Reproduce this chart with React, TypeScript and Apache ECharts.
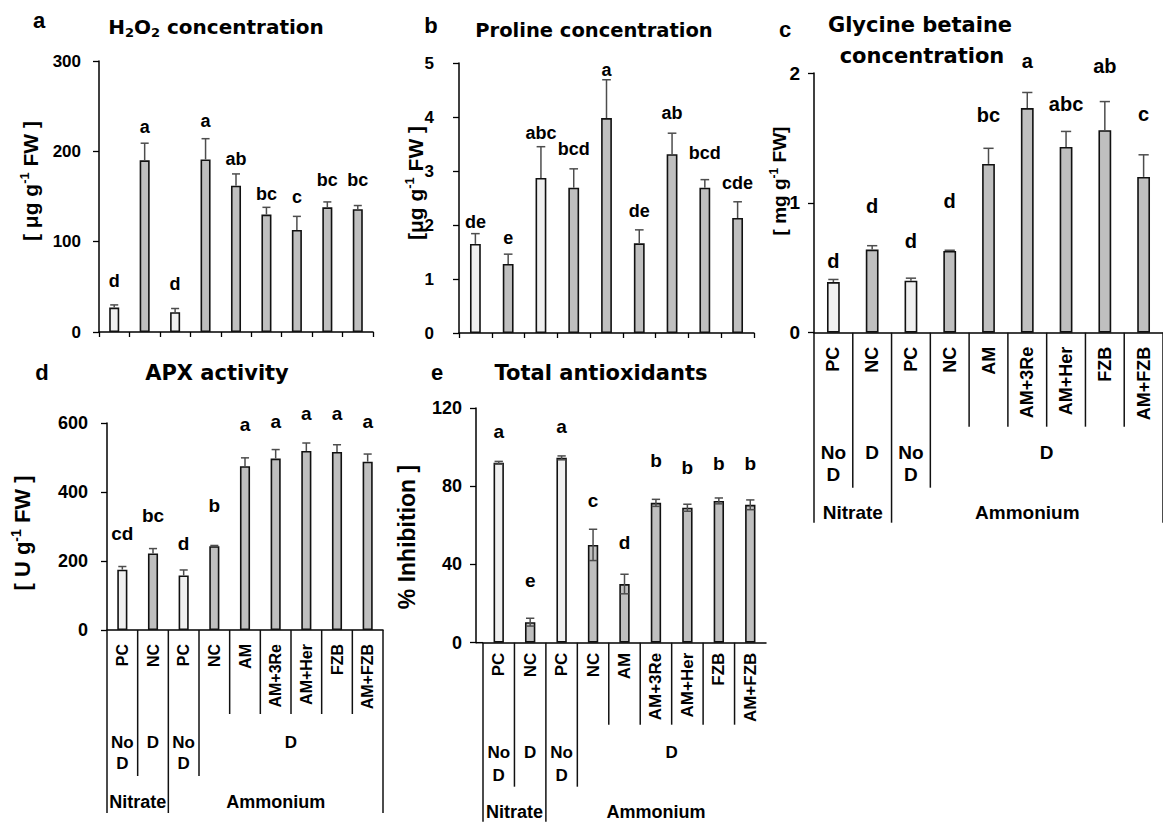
import React, { useEffect, useRef } from 'react';
import * as echarts from 'echarts';

// ---------- data ----------
const categories = ['PC', 'NC', 'PC', 'NC', 'AM', 'AM+3Re', 'AM+Her', 'FZB', 'AM+FZB'];
const droughtGroups = [
  { label: 'No\nD', from: 0, to: 1 },
  { label: 'D', from: 1, to: 2 },
  { label: 'No\nD', from: 2, to: 3 },
  { label: 'D', from: 3, to: 9 },
];
const nitrogenGroups = [
  { label: 'Nitrate', from: 0, to: 2 },
  { label: 'Ammonium', from: 2, to: 9 },
];

const h2o2Mean = [27, 190, 22, 191, 162, 130, 113, 138, 136];
const h2o2Err = [3, 19, 4, 23, 13, 8, 15, 6, 4];
const h2o2Letters = ['d', 'a', 'd', 'a', 'ab', 'bc', 'c', 'bc', 'bc'];
const h2o2LetterY = [50, 220, 46, 227, 185, 146, 143, 161, 161];

const prolineMean = [1.65, 1.28, 2.87, 2.69, 3.98, 1.66, 3.31, 2.69, 2.13];
const prolineErr = [0.19, 0.18, 0.58, 0.35, 0.71, 0.25, 0.39, 0.15, 0.3];
const prolineLetters = ['de', 'e', 'abc', 'bcd', 'a', 'de', 'ab', 'bcd', 'cde'];
const prolineLetterY = [1.93, 1.64, 3.58, 3.3, 4.75, 2.14, 3.95, 3.21, 2.66];

const glycineMean = [0.39, 0.64, 0.4, 0.63, 1.3, 1.73, 1.43, 1.56, 1.2];
const glycineErr = [0.02, 0.03, 0.02, 0.005, 0.12, 0.12, 0.12, 0.22, 0.17];
const glycineLetters = ['d', 'd', 'd', 'd', 'bc', 'a', 'abc', 'ab', 'c'];
const glycineLetterY = [0.5, 0.92, 0.65, 0.96, 1.62, 2.04, 1.71, 2.0, 1.63];

const apxMean = [175, 222, 158, 243, 475, 497, 519, 516, 488];
const apxErr = [9, 14, 16, 2, 24, 26, 23, 21, 22];
const apxLetters = ['cd', 'bc', 'd', 'b', 'a', 'a', 'a', 'a', 'a'];
const apxLetterY = [261, 314, 232, 343, 575, 585, 609, 609, 585];

const antioxMean = [92, 10.5, 94.5, 50, 30, 71.5, 69, 72.5, 70.5];
const antioxErr = [0.7, 2, 1, 8, 5, 1.8, 1.8, 1.5, 2.5];
const antioxLetters = ['a', 'e', 'a', 'c', 'd', 'b', 'b', 'b', 'b'];
const antioxLetterY = [104.5, 28.6, 107, 69.5, 47.9, 89.7, 86.2, 88, 88];

// ---------- styles / layout ----------
const SANS = '"Liberation Sans", Arial, Helvetica, sans-serif';
const TITLE = '"DejaVu Sans", Verdana, sans-serif';
const LIGHT = '#f0f0f0';
const GRAY = '#bfbfbf';
const ERR = '#4d4d4d';

const panels: any[] = [
  {
    mean: h2o2Mean, err: h2o2Err, letters: h2o2Letters, letterY: h2o2LetterY, max: 300, interval: 100,
    grid: { left: 99, top: 61, width: 274, height: 271 }, tickFont: 17, tickMargin: 18, letterFont: 18,
    yOffset: 0, bothSides: false, table: null,
  },
  {
    mean: prolineMean, err: prolineErr, letters: prolineLetters, letterY: prolineLetterY, max: 5, interval: 1,
    grid: { left: 459, top: 63, width: 295, height: 270 }, tickFont: 17, tickMargin: 25, letterFont: 18,
    yOffset: 0, bothSides: false, table: null,
  },
  {
    mean: glycineMean, err: glycineErr, letters: glycineLetters, letterY: glycineLetterY, max: 2, interval: 1,
    grid: { left: 814, top: 73, width: 358, height: 259.7 }, tickFont: 19, tickMargin: 14, letterFont: 20,
    yOffset: 0, bothSides: false,
    table: { labelFont: 18, labelMargin: 14, lens: [94, 155, 190], droughtTop: 109, lineH: 22, droughtFont: 19, groupY: 180, groupFont: 19, rightEdge: true, extendLeft: 0 },
  },
  {
    mean: apxMean, err: apxErr, letters: apxLetters, letterY: apxLetterY, max: 600, interval: 200,
    grid: { left: 107, top: 423, width: 276, height: 207 }, tickFont: 18, tickMargin: 19, letterFont: 19,
    yOffset: 0, bothSides: false,
    table: { labelFont: 16, labelMargin: 14, lens: [84, 146, 183], droughtTop: 101.5, lineH: 21, droughtFont: 17, groupY: 172, groupFont: 18, rightEdge: true, extendLeft: 0 },
  },
  {
    mean: antioxMean, err: antioxErr, letters: antioxLetters, letterY: antioxLetterY, max: 120, interval: 40,
    grid: { left: 483, top: 408, width: 283, height: 234.7 }, tickFont: 18, tickMargin: 14, letterFont: 19,
    yOffset: 7, bothSides: true,
    table: { labelFont: 17, labelMargin: 10, lens: [82, 144, 179], droughtTop: 97.8, lineH: 23, droughtFont: 17, groupY: 169, groupFont: 18, rightEdge: false, extendLeft: 7 },
  },
];

function txt(x: number, y: number, text: string, font: string, extra: any = {}) {
  return {
    type: 'text', x, y, ...extra,
    style: {
      text, font, fill: '#000',
      textAlign: 'center', textVerticalAlign: 'middle', align: 'center', verticalAlign: 'middle',
      ...(extra.style || {}),
    },
  };
}

function yLabel(x: number, y: number, parts: string[], fs: number) {
  const text = `{n|${parts[0]}}{s|${parts[1]}}{n|${parts[2]}}`;
  return {
    type: 'text', x, y, rotation: Math.PI / 2,
    style: {
      text,
      textAlign: 'center', textVerticalAlign: 'middle', align: 'center', verticalAlign: 'middle',
      rich: {
        n: { fontSize: fs, fontWeight: 'bold', fontFamily: SANS, fill: '#000', color: '#000', lineHeight: fs + 4 },
        s: { fontSize: Math.round(fs * 0.62), fontWeight: 'bold', fontFamily: SANS, fill: '#000', color: '#000', lineHeight: Math.round(fs * 0.62) + 1, verticalAlign: 'top' },
      },
    },
  };
}

function buildOption() {
  const grid: any[] = [];
  const xAxis: any[] = [];
  const yAxis: any[] = [];
  const series: any[] = [];

  panels.forEach((p, k) => {
    grid.push({ ...p.grid, containLabel: false });
    xAxis.push({
      type: 'category', gridIndex: k, data: categories, boundaryGap: true,
      axisLine: { show: true, lineStyle: { color: '#000', width: 1.5 } },
      axisTick: { show: !p.table, interval: 0, length: 5, lineStyle: { color: '#000', width: 1.3 } },
      axisLabel: p.table
        ? { show: true, interval: 0, rotate: 90, margin: p.table.labelMargin, fontSize: p.table.labelFont, fontWeight: 'bold', fontFamily: SANS, color: '#000' }
        : { show: false },
      splitLine: { show: false },
    });
    yAxis.push({
      type: 'value', gridIndex: k, min: 0, max: p.max, interval: p.interval, offset: p.yOffset,
      axisLine: { show: true, lineStyle: { color: '#000', width: 1.5 } },
      axisTick: { show: true, length: 6, lineStyle: { color: '#000', width: 1.3 } },
      axisLabel: { margin: p.tickMargin, fontSize: p.tickFont, fontWeight: 'bold', fontFamily: SANS, color: '#000' },
      splitLine: { show: false },
    });

    series.push({
      type: 'bar', xAxisIndex: k, yAxisIndex: k, barWidth: '33%', z: 2,
      data: p.mean.map((v: number, i: number) => ({
        value: v,
        itemStyle: { color: categories[i] === 'PC' ? LIGHT : GRAY },
      })),
      itemStyle: { borderColor: '#111', borderWidth: 1.6 },
    });

    series.push({
      type: 'custom', xAxisIndex: k, yAxisIndex: k, z: 3, clip: false,
      data: p.mean.map((v: number, i: number) => [i, v, p.err[i]]),
      renderItem: (params: any, api: any) => {
        const i = api.value(0), m = api.value(1), e = api.value(2);
        const top = api.coord([i, m + e]);
        const mid = api.coord([i, m]);
        const bot = api.coord([i, Math.max(0, m - e)]);
        const band = api.size([1, 0])[0];
        const half = band * 0.33 * 0.4;
        const style = { stroke: ERR, lineWidth: 1.5, fill: null };
        const end = p.bothSides ? bot : mid;
        const children: any[] = [
          { type: 'line', shape: { x1: top[0], y1: top[1], x2: end[0], y2: end[1] }, style },
          { type: 'line', shape: { x1: top[0] - half, y1: top[1], x2: top[0] + half, y2: top[1] }, style },
        ];
        if (p.bothSides) {
          children.push({ type: 'line', shape: { x1: bot[0] - half, y1: bot[1], x2: bot[0] + half, y2: bot[1] }, style });
        }
        return { type: 'group', children };
      },
    });

    series.push({
      type: 'custom', xAxisIndex: k, yAxisIndex: k, z: 4, clip: false,
      data: p.letterY.map((v: number, i: number) => [i, v]),
      renderItem: (params: any, api: any) => {
        const pt = api.coord([api.value(0), api.value(1)]);
        const fs = p.letterFont;
        return txt(pt[0], pt[1] - 0.35 * fs, p.letters[params.dataIndex], `bold ${fs}px ${SANS}`);
      },
    });

    if (p.table) {
      const t = p.table;
      const nBound = new Set<number>();
      nitrogenGroups.forEach((g) => { nBound.add(g.from); nBound.add(g.to); });
      const dBound = new Set<number>();
      droughtGroups.forEach((g) => { dBound.add(g.from); dBound.add(g.to); });
      series.push({
        type: 'custom', xAxisIndex: k, yAxisIndex: k, z: 5, clip: false, silent: true,
        data: [[0, 0]],
        renderItem: (params: any, api: any) => {
          const band = api.size([1, 0])[0];
          const o = api.coord([0, 0]);
          const x0 = o[0] - band / 2;
          const ya = o[1];
          const bx = (b: number) => x0 + b * band;
          const children: any[] = [];
          if (t.extendLeft) {
            children.push({ type: 'line', shape: { x1: x0 - t.extendLeft, y1: ya, x2: x0, y2: ya }, style: { stroke: '#000', lineWidth: 1.5 } });
          }
          for (let b = 0; b <= categories.length; b++) {
            if (b === categories.length && !t.rightEdge) continue;
            const len = nBound.has(b) ? t.lens[2] : dBound.has(b) ? t.lens[1] : t.lens[0];
            children.push({ type: 'line', shape: { x1: bx(b), y1: ya, x2: bx(b), y2: ya + len }, style: { stroke: '#111', lineWidth: 1.5 } });
          }
          droughtGroups.forEach((g) => {
            children.push({
              type: 'text', x: (bx(g.from) + bx(g.to)) / 2, y: ya + t.droughtTop,
              style: {
                text: g.label, fill: '#000', font: `bold ${t.droughtFont}px ${SANS}`, lineHeight: t.lineH,
                textAlign: 'center', textVerticalAlign: 'top', align: 'center', verticalAlign: 'top',
              },
            });
          });
          nitrogenGroups.forEach((g) => {
            children.push(txt((bx(g.from) + bx(g.to)) / 2, ya + t.groupY, g.label, `bold ${t.groupFont}px ${SANS}`));
          });
          return { type: 'group', children };
        },
      });
    }
  });

  const L = 22;
  const graphics: any[] = [
    txt(39, 28 - 0.35 * L, 'a', `bold ${L}px ${SANS}`),
    txt(431, 33 - 0.35 * L, 'b', `bold ${L}px ${SANS}`),
    txt(785, 37 - 0.35 * L, 'c', `bold ${L}px ${SANS}`),
    txt(42, 380 - 0.35 * L, 'd', `bold ${L}px ${SANS}`),
    txt(437, 380 - 0.35 * L, 'e', `bold ${L}px ${SANS}`),
    {
      type: 'text', x: 216, y: 27,
      style: {
        text: '{t|H}{s|2}{t|O}{s|2}{t| concentration}',
        textAlign: 'center', textVerticalAlign: 'middle', align: 'center', verticalAlign: 'middle',
        rich: {
          t: { fontSize: 20, fontWeight: 'bold', fontFamily: TITLE, fill: '#000', color: '#000', lineHeight: 24 },
          s: { fontSize: 13, fontWeight: 'bold', fontFamily: TITLE, fill: '#000', color: '#000', lineHeight: 14, verticalAlign: 'bottom' },
        },
      },
    },
    txt(594, 37 - 0.35 * 19.5, 'Proline concentration', `bold 19.5px ${TITLE}`),
    txt(920, 32 - 7.3, 'Glycine betaine', `bold 21px ${TITLE}`),
    txt(922, 63 - 7.3, 'concentration', `bold 21px ${TITLE}`),
    txt(217, 380 - 7.35, 'APX activity', `bold 21px ${TITLE}`),
    txt(601, 380 - 7.35, 'Total antioxidants', `bold 21px ${TITLE}`),
    yLabel(30, 181, ['[ μg g', '-1', ' FW ]'], 21),
    yLabel(415, 183, ['[μg g', '-1', ' FW ]'], 21),
    yLabel(779, 181, ['[ mg g', '-1', ' FW]'], 19),
    yLabel(22, 533, ['[ U g', '-1', ' FW ]'], 22),
    {
      type: 'text', x: 407, y: 537, rotation: Math.PI / 2,
      style: {
        text: '% Inhibition ]', font: `bold 23px ${SANS}`, fill: '#000',
        textAlign: 'center', textVerticalAlign: 'middle', align: 'center', verticalAlign: 'middle',
      },
    },
  ];

  return {
    animation: false,
    backgroundColor: '#ffffff',
    grid, xAxis, yAxis, series,
    graphic: { elements: graphics },
  };
}

export default function App() {
  const ref = useRef<HTMLDivElement>(null);
  useEffect(() => {
    if (!ref.current) return;
    const chart = echarts.init(ref.current, null, { renderer: 'svg' });
    chart.setOption(buildOption() as any);
    return () => chart.dispose();
  }, []);
  return (
    <div
      ref={ref}
      style={{ position: 'fixed', left: 0, top: 0, width: 1163, height: 823, background: '#fff' }}
    />
  );
}
